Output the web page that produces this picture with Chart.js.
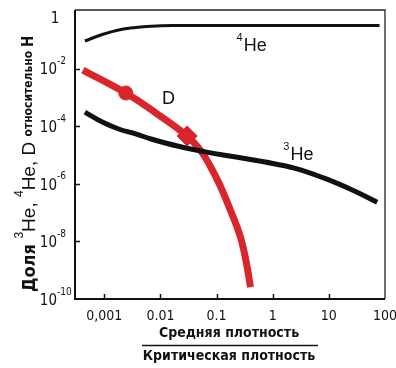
<!DOCTYPE html>
<html>
<head>
<meta charset="utf-8">
<script src="https://cdn.jsdelivr.net/npm/chart.js@4.4.1/dist/chart.umd.min.js"></script>
<style>
  html, body { margin: 0; padding: 0; background: #fff; }
  canvas { display: block; }
</style>
</head>
<body>
<canvas id="abundChart" width="396" height="368"></canvas>
<script>
// density ratio (mean / critical) and abundance relative to H
const he4X = [0.00045, 0.00092, 0.0018, 0.0036, 0.0068, 0.0163, 0.1, 1, 10, 80];
const he4Y = [0.091, 0.153, 0.219, 0.267, 0.297, 0.314, 0.315, 0.315, 0.315, 0.315];

const he3X = [0.00045, 0.00092, 0.0018, 0.0036, 0.0068, 0.020, 0.0665, 0.221, 0.733, 2.43, 8.05, 26.7, 72.6];
const he3Y = [3.1e-4, 1.4e-4, 8.0e-5, 5.4e-5, 3.6e-5, 2.05e-5, 1.26e-5, 8.5e-6, 5.7e-6, 3.5e-6, 1.6e-6, 6.0e-7, 2.3e-7];

const dX = [0.000415, 0.00241, 0.0083, 0.0299, 0.0524, 0.075, 0.112, 0.167, 0.259, 0.329, 0.402];
const dY = [8.9e-3, 1.42e-3, 2.87e-4, 4.57e-5, 1.38e-5, 4.5e-6, 9.8e-7, 1.56e-7, 1.67e-8, 2.45e-9, 2.6e-10];

// circle and diamond on the D curve
const dMarkX = [0.00241, 0.0299];
const dMarkY = [1.42e-3, 4.57e-5];
const dMarkStyle = ['circle', 'rectRot'];

const xTicks = [0.001, 0.01, 0.1, 1, 10, 100];
const xTickLabels = ['0,001', '0.01', '0.1', '1', '10', '100'];
const yTicks = [1, 1e-2, 1e-4, 1e-6, 1e-8, 1e-10];
const yTickExp = ['', '-2', '-4', '-6', '-8', '-10'];

const RED = '#d8262c';
const INK = '#111';
const COND = '"DejaVu Sans Condensed", "DejaVu Sans", sans-serif';
const SANS = '"Liberation Sans", Arial, sans-serif';

function pts(xs, ys) {
  return xs.map((x, i) => ({ x: x, y: ys[i] }));
}

// draws a run of text pieces with their own fonts and baseline shifts
function drawRuns(ctx, runs, x, y) {
  let cx = x;
  runs.forEach(r => {
    ctx.font = r.font;
    ctx.fillText(r.t, cx, y + (r.dy || 0));
    cx += ctx.measureText(r.t).width;
  });
  return cx;
}

const framePlugin = {
  id: 'frame',
  beforeDraw(chart) {
    const c = chart.ctx;
    c.save();
    c.fillStyle = '#fff';
    c.fillRect(0, 0, chart.width, chart.height);
    c.restore();
  },
  afterDraw(chart) {
    const c = chart.ctx;
    const a = chart.chartArea;
    const xs = chart.scales.x, ys = chart.scales.y;
    c.save();

    // thin top and right edges, heavier axes
    c.strokeStyle = '#222';
    c.lineWidth = 1.3;
    c.beginPath();
    c.moveTo(a.left, a.top - 1);
    c.lineTo(a.right, a.top - 1);
    c.lineTo(a.right, a.bottom);
    c.stroke();
    c.strokeStyle = INK;
    c.lineWidth = 2;
    c.beginPath();
    c.moveTo(a.left, a.top - 1);
    c.lineTo(a.left, a.bottom);
    c.lineTo(a.right, a.bottom);
    c.stroke();

    // inward tick marks
    c.lineWidth = 1.5;
    c.beginPath();
    xs.ticks.forEach(t => {
      const px = Math.round(xs.getPixelForValue(t.value)) + 0.5;
      if (px > a.left + 2 && px < a.right - 2) {
        c.moveTo(px, a.bottom);
        c.lineTo(px, a.bottom - 5);
      }
    });
    ys.ticks.forEach(t => {
      const py = Math.round(ys.getPixelForValue(t.value)) + 0.5;
      if (py > a.top + 2 && py < a.bottom - 2) {
        c.moveTo(a.left, py);
        c.lineTo(a.left + 5, py);
      }
    });
    c.stroke();

    // x tick labels
    c.fillStyle = INK;
    c.font = '14px ' + COND;
    c.textAlign = 'center';
    c.textBaseline = 'middle';
    xs.ticks.forEach((t, i) => {
      c.fillText(xTickLabels[i], xs.getPixelForValue(t.value), a.bottom + 17);
    });

    // y tick labels: 10 with raised exponent
    c.textAlign = 'right';
    ys.ticks.forEach((t, i) => {
      let py = ys.getPixelForValue(t.value);
      if (yTickExp[i] === '') {
        c.font = '15px ' + COND;
        c.textAlign = 'center';
        c.fillText('1', 55, py + 8);
        c.textAlign = 'right';
        return;
      }
      py += 2;
      c.font = '15px ' + COND;
      c.fillText('10', 57, py);
      c.textAlign = 'left';
      c.font = '10px ' + COND;
      c.fillText(yTickExp[i], 57, py - 9);
      c.textAlign = 'right';
    });

    // curve labels
    c.textAlign = 'left';
    c.textBaseline = 'alphabetic';
    const lab = (sup, txt, vx, vy) => {
      const px = xs.getPixelForValue(vx), py = ys.getPixelForValue(vy);
      if (sup) {
        c.font = '11px ' + SANS;
        c.fillText(sup, px - c.measureText(sup).width - 1, py - 10);
      }
      c.font = '18px ' + SANS;
      c.fillText(txt, px, py);
    };
    lab('4', 'He', 0.304, 0.041);
    lab('3', 'He', 2.07, 6.7e-6);
    lab('', 'D', 0.0106, 5.9e-4);

    // x title as a fraction
    const cx = 229;
    c.textAlign = 'center';
    c.textBaseline = 'middle';
    c.font = 'bold 14px ' + COND;
    c.fillText('Средняя плотность', cx, 333);
    c.fillText('Критическая плотность', cx, 356);
    c.lineWidth = 1.5;
    c.beginPath();
    c.moveTo(142, 345.5);
    c.lineTo(318, 345.5);
    c.stroke();

    // rotated y title
    c.translate(35, 292);
    c.rotate(-Math.PI / 2);
    c.textAlign = 'left';
    c.textBaseline = 'alphabetic';
    drawRuns(c, [
      { t: 'Доля ', font: 'bold 18px ' + COND },
      { t: '3', font: '12px ' + SANS, dy: -12 },
      { t: 'He, ', font: '19px ' + SANS },
      { t: '4', font: '12px ' + SANS, dy: -12 },
      { t: 'He, D ', font: '19px ' + SANS },
      { t: 'относительно ', font: 'bold 12px ' + COND, dy: -3 },
      { t: 'H', font: 'bold 15px ' + COND, dy: -2 }
    ], 0, 0);

    c.restore();
  }
};

const ctx = document.getElementById('abundChart').getContext('2d');
new Chart(ctx, {
  type: 'scatter',
  data: {
    datasets: [
      {
        label: '3He',
        data: pts(he3X, he3Y),
        showLine: true,
        borderColor: INK,
        borderWidth: 5,
        pointRadius: 0,
        tension: 0.4
      },
      {
        label: 'D marks',
        data: pts(dMarkX, dMarkY),
        showLine: false,
        pointStyle: dMarkStyle,
        pointRadius: [7, 10],
        backgroundColor: RED,
        borderColor: RED,
        borderWidth: 1
      },
      {
        label: 'D',
        data: pts(dX, dY),
        showLine: true,
        borderColor: RED,
        borderWidth: 7,
        pointRadius: 0,
        tension: 0.4
      },
      {
        label: '4He',
        data: pts(he4X, he4Y),
        showLine: true,
        borderColor: INK,
        borderWidth: 3,
        pointRadius: 0,
        tension: 0.4
      }
    ]
  },
  options: {
    responsive: false,
    animation: false,
    layout: { padding: { left: 75, right: 3, top: 11, bottom: 69 } },
    plugins: {
      legend: { display: false },
      tooltip: { enabled: false }
    },
    scales: {
      x: {
        type: 'logarithmic',
        min: 0.0003,
        max: 100,
        afterBuildTicks: s => { s.ticks = xTicks.map(v => ({ value: v })); },
        ticks: { display: false },
        grid: { display: false, drawTicks: false },
        border: { display: false }
      },
      y: {
        type: 'logarithmic',
        min: 1e-10,
        max: 1,
        afterBuildTicks: s => { s.ticks = yTicks.map(v => ({ value: v })); },
        ticks: { display: false },
        grid: { display: false, drawTicks: false },
        border: { display: false }
      }
    }
  },
  plugins: [framePlugin]
});
</script>
</body>
</html>
